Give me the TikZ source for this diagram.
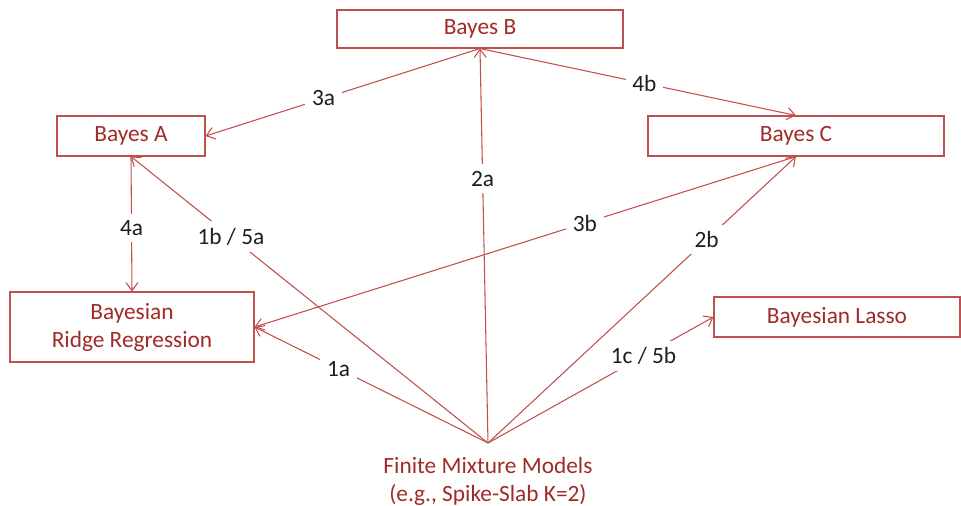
\documentclass[tikz,border=0pt]{standalone}
\usepackage{fontspec}
\setmainfont{Carlito}
\usetikzlibrary{arrows.meta}
\usepackage{xcolor}
\definecolor{linered}{HTML}{C0504D}
\definecolor{textred}{HTML}{A02A28}
\definecolor{labelgray}{HTML}{1E1E1E}

\begin{document}
\begin{tikzpicture} [x=0.75pt, y=-0.75pt,
  model/.style={draw=linered, thick, text=textred, font=\fontsize{17.5}{21}\selectfont, align=center, inner sep=2pt, minimum height=30pt},
  link/.style={draw=linered, thick, -{Straight Barb[length=6pt, width=9pt]}},
  lab/.style={fill=white, text=labelgray, font=\fontsize{17.5}{21}\selectfont, inner sep=5pt}]
\useasboundingbox (0,0) rectangle (961,506);

\node[model, minimum width=214.5pt, minimum height=28.5pt] (bayesB) at (480,29) {Bayes B};
\node[model, minimum width=111pt] (bayesA) at (131,136) {Bayes A};
\node[model, minimum width=222pt] (bayesC) at (796,136) {Bayes C};
\node[model, minimum width=183pt, minimum height=52.5pt] (ridge) at (132,327) {Bayesian\\Ridge Regression};
\node[model, minimum width=184.5pt] (lasso) at (837,317) {Bayesian Lasso};
\node[text=textred, font=\fontsize{17.5}{21}\selectfont, align=center] (fmm) at (488,481) {Finite Mixture Models\\(e.g., Spike-Slab K=2)};
\coordinate (apex) at (488,443);

\draw[link] (bayesB.south) -- node[lab, pos=.57] {3a} (bayesA.east);
\draw[link] (bayesB.south) -- node[lab, pos=.52] {4b} (bayesC.north);
\draw[link] (bayesA.south) -- node[lab, pos=.53] {4a} (ridge.north);
\draw[link] (bayesC.south) -- node[lab, pos=.39] {3b} (ridge.east);
\draw[link] (apex) -- node[lab, pos=.67] {2a} (bayesB.south);
\draw[link] (apex) -- node[lab, pos=.72] {1b / 5a} (bayesA.south);
\draw[link] (apex) -- node[lab, pos=.71] {2b} (bayesC.south);
\draw[link] (apex) -- node[lab, pos=.64] {1a} (ridge.east);
\draw[link] (apex) -- node[lab, pos=.69] {1c / 5b} (lasso.west);
\end{tikzpicture}
\end{document}
